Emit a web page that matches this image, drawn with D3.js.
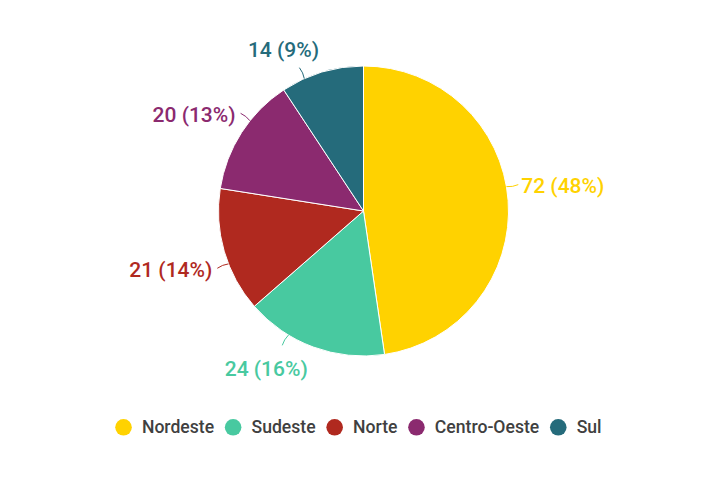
<!DOCTYPE html>
<html>
<head>
<meta charset="utf-8">
<script src="https://cdn.jsdelivr.net/npm/d3@7"></script>
<style>
  html, body { margin: 0; padding: 0; background: #fff; }
  svg { display: block; }
</style>
</head>
<body>
<svg id="chart" width="710" height="498"></svg>
<script>
const categories = ["Nordeste", "Sudeste", "Norte", "Centro-Oeste", "Sul"];
const values = [72, 24, 21, 20, 14];
const colors = ["#FFD200", "#48C9A0", "#B0291F", "#8B2A6F", "#256B7B"];

const W = 710, H = 498;
const cx = 363.5, cy = 211, R = 145;
const svg = d3.select("#chart");
const total = d3.sum(values);

const data = categories.map((c, i) => ({ name: c, value: values[i], color: colors[i] }));
const pie = d3.pie().value(d => d.value).sort(null);
const arcs = pie(data);
const arc = d3.arc().innerRadius(0).outerRadius(R);

const g = svg.append("g").attr("transform", `translate(${cx},${cy})`);
g.selectAll("path.slice").data(arcs).join("path")
  .attr("class", "slice")
  .attr("d", arc)
  .attr("fill", d => d.data.color)
  .attr("stroke", "#fff")
  .attr("stroke-width", 1);

// label placement (layout nudges in degrees, relative to slice mid-angle)
const nudge = { "Nordeste": -5.5, "Sudeste": 10.9, "Norte": -5.3, "Centro-Oeste": 5.7, "Sul": -7.4 };
const fmt = d => `${d.value} (${Math.round(d.value / total * 100)}%)`;
const pt = (a, r) => [Math.sin(a) * r, -Math.cos(a) * r];

arcs.forEach(d => {
  const a = (d.startAngle + d.endAngle) / 2 + nudge[d.data.name] * Math.PI / 180;
  const p0 = pt(a, R), p1 = pt(a, R + 12);
  const pm = pt(a, R + 6);
  const s = Math.sin(a), c = Math.cos(a);
  g.append("path")
    .attr("d", `M${p0[0]},${p0[1]} Q${pm[0] + c * 1.5},${pm[1] + s * 1.5} ${p1[0]},${p1[1]}`)
    .attr("fill", "none")
    .attr("stroke", d.data.color)
    .attr("stroke-width", 1);
  const t = g.append("text")
    .text(fmt(d.data))
    .attr("fill", d.data.color)
    .attr("font-family", "Roboto, sans-serif")
    .attr("font-weight", 500)
    .attr("font-size", 21)
    .attr("dominant-baseline", "central");
  if (Math.abs(s) > 0.7) {
    t.attr("text-anchor", s > 0 ? "start" : "end")
     .attr("x", p1[0] + (s > 0 ? 3 : -5))
     .attr("y", p1[1] + 1.5);
  } else {
    t.attr("text-anchor", "middle")
     .attr("x", p1[0] + Math.sign(s) * 16)
     .attr("y", p1[1] + (c > 0 ? -18 : 24));
  }
});

// legend
const legend = svg.append("g").attr("class", "legend");
const items = legend.selectAll("g").data(data).join("g");
items.append("circle").attr("r", 8.3).attr("cx", 8.3).attr("cy", 0).attr("fill", d => d.color);
items.append("text")
  .attr("x", 26.7)
  .attr("y", 0)
  .attr("dominant-baseline", "central")
  .attr("font-family", "Roboto, sans-serif")
  .attr("font-weight", 500)
  .attr("font-size", 17.6)
  .attr("fill", "#404040")
  .text(d => d.name);
let xoff = 0;
items.each(function () {
  const w = d3.select(this).select("text").node().getComputedTextLength();
  d3.select(this).attr("transform", `translate(${xoff},0)`);
  xoff += 26.7 + w + 10.7;
});
const legendW = xoff - 10.7;
legend.attr("transform", `translate(${358.4 - legendW / 2},427.3)`);
</script>
</body>
</html>
